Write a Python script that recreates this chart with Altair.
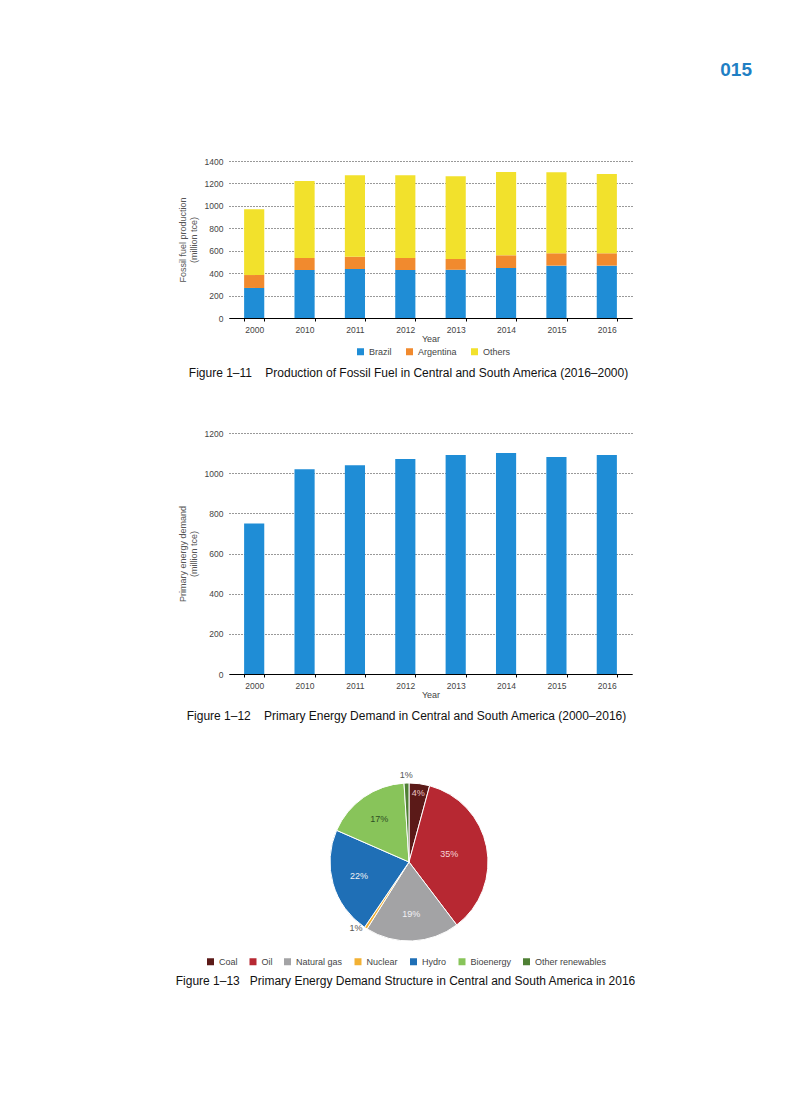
import altair as alt
import pandas as pd

FONT = "Liberation Sans"

# ---------------- data ----------------
years = ["2000", "2010", "2011", "2012", "2013", "2014", "2015", "2016"]
series = ["Brazil", "Argentina", "Others"]
brazil = [268, 428, 437, 428, 430, 446, 467, 467]
argentina = [115, 107, 110, 107, 96, 113, 110, 110]
others = [587, 687, 725, 737, 737, 743, 723, 707]
series_colors = ["#1f8dd6", "#f18a2e", "#f2e12c"]

demand = [750, 1020, 1040, 1070, 1090, 1100, 1080, 1090]

energy_types = ["Coal", "Oil", "Natural gas", "Nuclear", "Hydro", "Bioenergy", "Other renewables"]
energy_share = [4.2, 35.4, 19.2, 0.6, 22.0, 17.4, 1.0]
energy_labels = ["4%", "35%", "19%", "1%", "22%", "17%", "1%"]
energy_colors = ["#5b1a18", "#b72832", "#a3a3a5", "#f2b134", "#1f6fb6", "#88c45a", "#4f8034"]

page_number = "015"
cap1 = "Figure 1\u201311\u00a0\u00a0\u00a0\u00a0Production of Fossil Fuel in Central and South America (2016\u20132000)"
cap2 = "Figure 1\u201312\u00a0\u00a0\u00a0\u00a0Primary Energy Demand in Central and South America (2000\u20132016)"
cap3 = "Figure 1\u201313\u00a0\u00a0\u00a0Primary Energy Demand Structure in Central and South America in 2016"

# ---------------- tables ----------------
rows = []
for i, y in enumerate(years):
    for s, vals in zip(series, [brazil, argentina, others]):
        rows.append({"year": y, "series": s, "value": vals[i], "order": series.index(s)})
df1 = pd.DataFrame(rows)
df2 = pd.DataFrame({"year": years, "value": demand})
df3 = pd.DataFrame({"type": energy_types, "share": energy_share,
                    "label": energy_labels, "idx": list(range(len(energy_types)))})

W = 403

def x_axis():
    return alt.Axis(labelAngle=0, tickBand="extent", domainColor="#000", tickColor="#000",
                    tickSize=3, labelColor="#444", labelFontSize=8.5, labelFont=FONT,
                    titleFont=FONT, titleFontSize=9, titleColor="#444", titleFontWeight="normal",
                    titlePadding=1, labelPadding=4, grid=False)

def y_axis(values, title):
    return alt.Axis(values=values, format="d", grid=True, gridDash=[1, 2], gridColor="#333", gridWidth=1,
                    domain=False, ticks=False, labelPadding=6, labelColor="#444",
                    labelFontSize=8.5, labelFont=FONT, title=title, titleFont=FONT,
                    titleFontSize=9, titleColor="#555", titleFontWeight="normal", titlePadding=6)

def caption(text, dx, offset):
    return alt.TitleParams(text, orient="bottom", anchor="middle", frame="group", dx=dx, offset=offset,
                           fontSize=12, font=FONT, fontWeight="normal", color="#111")

xscale = alt.Scale(paddingInner=0.6, paddingOuter=0.3)

c1 = alt.Chart(df1).mark_bar().encode(
    x=alt.X("year:N", title="Year", sort=years, scale=xscale, axis=x_axis()),
    y=alt.Y("value:Q", stack=True, scale=alt.Scale(domain=[0, 1400]),
            axis=y_axis(list(range(0, 1401, 200)), ["Fossil fuel production", "(million tce)"])),
    color=alt.Color("series:N", scale=alt.Scale(domain=series, range=series_colors),
                    legend=alt.Legend(orient="none", legendX=127, legendY=186, direction="horizontal",
                                      title=None, symbolType="square", symbolSize=49,
                                      symbolStrokeWidth=0, labelFontSize=9, labelFont=FONT,
                                      labelColor="#444", columnPadding=13, labelOffset=4)),
    order=alt.Order("order:Q", sort="ascending"),
).properties(width=W, height=157, title=caption(cap1, -22, 11))

c2 = alt.Chart(df2).mark_bar(color="#1f8dd6").encode(
    x=alt.X("year:N", title="Year", sort=years, scale=xscale, axis=x_axis()),
    y=alt.Y("value:Q", scale=alt.Scale(domain=[0, 1200]),
            axis=y_axis(list(range(0, 1201, 200)), ["Primary energy demand", "(million tce)"])),
).properties(width=W, height=241, title=caption(cap2, -24, 11))

PX, PY = 180, 73
theta = alt.Theta("share:Q", stack=True)
order = alt.Order("idx:Q", sort="ascending")

arcs = alt.Chart(df3).mark_arc(outerRadius=79, stroke="white", strokeWidth=1).encode(
    theta=theta, order=order,
    x=alt.value(PX), y=alt.value(PY),
    color=alt.Color("type:N", scale=alt.Scale(domain=energy_types, range=energy_colors),
                    legend=alt.Legend(orient="none", legendX=-23, legendY=168, direction="horizontal",
                                      title=None, symbolType="square", symbolSize=49,
                                      symbolStrokeWidth=0, labelFontSize=9, labelFont=FONT,
                                      labelColor="#444", columnPadding=10.5, labelOffset=4)),
)

def pie_text(radius, names, color, dx=0, dy=0):
    cond = " || ".join(["datum.type == '%s'" % n for n in names])
    return alt.Chart(df3).transform_calculate(
        txt="(%s) ? datum.label : ''" % cond
    ).mark_text(radius=radius, font=FONT, fontSize=9, color=color, dx=dx, dy=dy).encode(
        theta=theta, order=order, x=alt.value(PX), y=alt.value(PY), text="txt:N"
    )

t_big = pie_text(52, ["Natural gas", "Hydro"], "#f1f1f4")
t_oil = pie_text(41, ["Oil"], "#f6d4d8")
t_bio = pie_text(52, ["Bioenergy"], "#2f4f25")
t_coal = pie_text(70, ["Coal"], "#ecc6c6")
t_nuc = pie_text(84, ["Nuclear"], "#555", dx=-7, dy=-4)
t_oth = pie_text(87, ["Other renewables"], "#555")

c3 = alt.layer(arcs, t_big, t_oil, t_bio, t_coal, t_nuc, t_oth).properties(
    width=W, height=146, title=caption(cap3, -25, 9))

chart = alt.vconcat(c1, c2, c3, spacing=115, bounds="flush").resolve_scale(
    color="independent"
).resolve_legend(color="independent").properties(
    title=alt.TitleParams(page_number, anchor="end", frame="group", fontSize=19, fontWeight="bold",
                          font=FONT, color="#1f7fc4", dx=120, offset=77),
    padding={"left": 167, "top": 53, "right": 5, "bottom": 14},
    autosize=alt.AutoSizeParams(type="pad"),
).configure_view(stroke=None)

chart.save("out.html", embed_options={"renderer": "svg", "actions": False})
